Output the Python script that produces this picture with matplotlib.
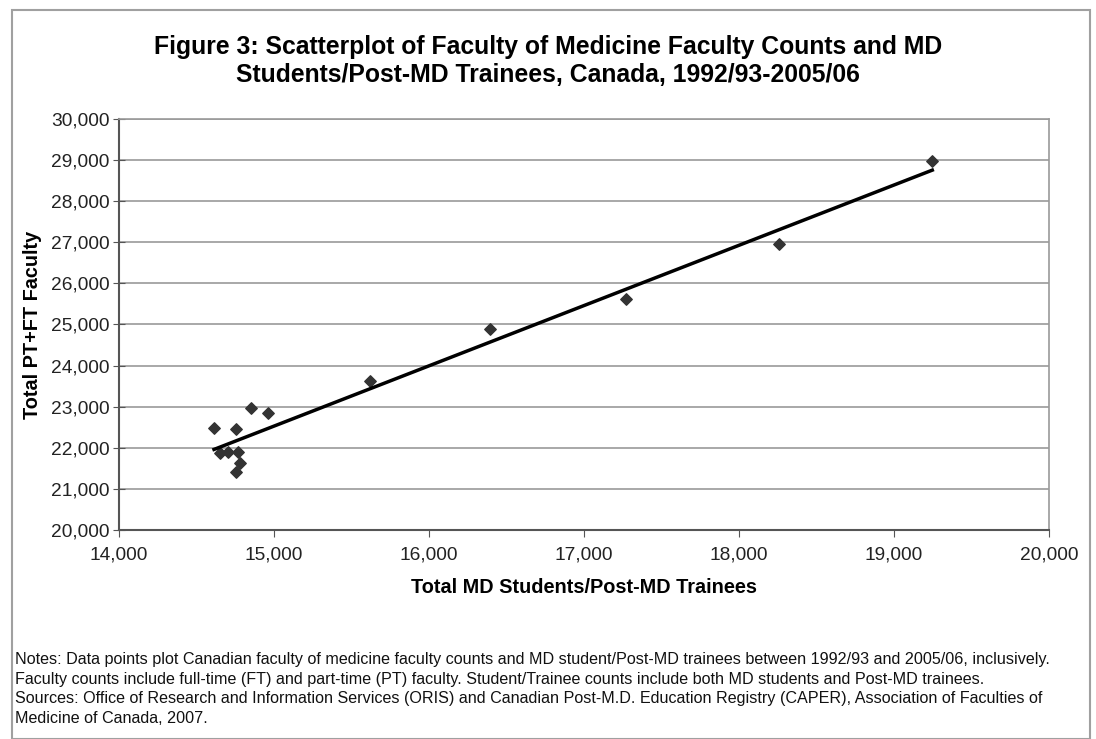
import numpy as np
import matplotlib
matplotlib.use('Agg')
import matplotlib.pyplot as plt
from matplotlib.patches import Rectangle
from matplotlib.ticker import FuncFormatter

plt.rcParams['font.family'] = ['Liberation Sans', 'DejaVu Sans']

# MD students/post-MD trainees vs faculty counts, 1992/93-2005/06
students = [14613, 14753, 14850, 14964, 14650, 14703, 14768, 14783, 14758,
            15622, 16392, 17268, 18258, 19247]
faculty = [22470, 22450, 22960, 22840, 21866, 21905, 21890, 21623, 21418,
           23633, 24890, 25613, 26966, 28986]

title = ("Figure 3: Scatterplot of Faculty of Medicine Faculty Counts and MD\n"
         "Students/Post-MD Trainees, Canada, 1992/93-2005/06")
notes = ("Notes: Data points plot Canadian faculty of medicine faculty counts and MD student/Post-MD trainees between 1992/93 and 2005/06, inclusively.\n"
         "Faculty counts include full-time (FT) and part-time (PT) faculty. Student/Trainee counts include both MD students and Post-MD trainees.\n"
         "Sources: Office of Research and Information Services (ORIS) and Canadian Post-M.D. Education Registry (CAPER), Association of Faculties of\n"
         "Medicine of Canada, 2007.")

W, H = 1096, 739
fig = plt.figure(figsize=(W / 100, H / 100), dpi=100)
fig.patch.set_facecolor('white')

# chart border
fig.patches.append(Rectangle((12 / W, 0), (1090 - 12) / W, (H - 10) / H,
                             transform=fig.transFigure, fill=False,
                             edgecolor='#a0a0a0', linewidth=1.5))

ax = fig.add_axes([119 / W, 1 - 530 / H, (1049 - 119) / W, (530 - 119) / H])
ax.set_xlim(14000, 20000)
ax.set_ylim(20000, 30000)
ax.set_xticks(np.arange(14000, 20001, 1000))
ax.set_yticks(np.arange(20000, 30001, 1000))
fmt = FuncFormatter(lambda v, p: '{:,.0f}'.format(v))
ax.xaxis.set_major_formatter(fmt)
ax.yaxis.set_major_formatter(fmt)
ax.grid(axis='y', color='#9a9a9a', linewidth=1.2)
ax.set_axisbelow(True)

for s in ['top', 'right']:
    ax.spines[s].set_color('#9a9a9a')
    ax.spines[s].set_linewidth(1.2)
for s in ['left', 'bottom']:
    ax.spines[s].set_color('#555555')
    ax.spines[s].set_linewidth(1.5)

ax.tick_params(axis='y', direction='inout', length=8, color='#555555',
               labelsize=13.8, labelcolor='#222222', pad=3)
ax.tick_params(axis='x', direction='out', length=5, color='#555555',
               labelsize=13.8, labelcolor='#222222', pad=7)

ax.scatter(students, faculty, marker='D', s=34, color='#333333', zorder=3)

# linear trend line
k, b = np.polyfit(students, faculty, 1)
xs = np.array([min(students), max(students)])
ax.plot(xs, k * xs + b, color='black', linewidth=2.5, zorder=4)

ax.set_xlabel('Total MD Students/Post-MD Trainees', fontsize=14.3,
              fontweight='bold', labelpad=10)
ax.set_ylabel('Total PT+FT Faculty', fontsize=14.3, fontweight='bold',
              labelpad=6)

fig.text(0.5, 1 - 61 / H, title, ha='center', va='center', fontsize=17.8,
         fontweight='bold', linespacing=1.25)
fig.text(15 / W, 1 - 652 / H, notes, ha='left', va='top', fontsize=11.6,
         linespacing=1.38, color='#111111')

fig.savefig('out.png', dpi=100)
